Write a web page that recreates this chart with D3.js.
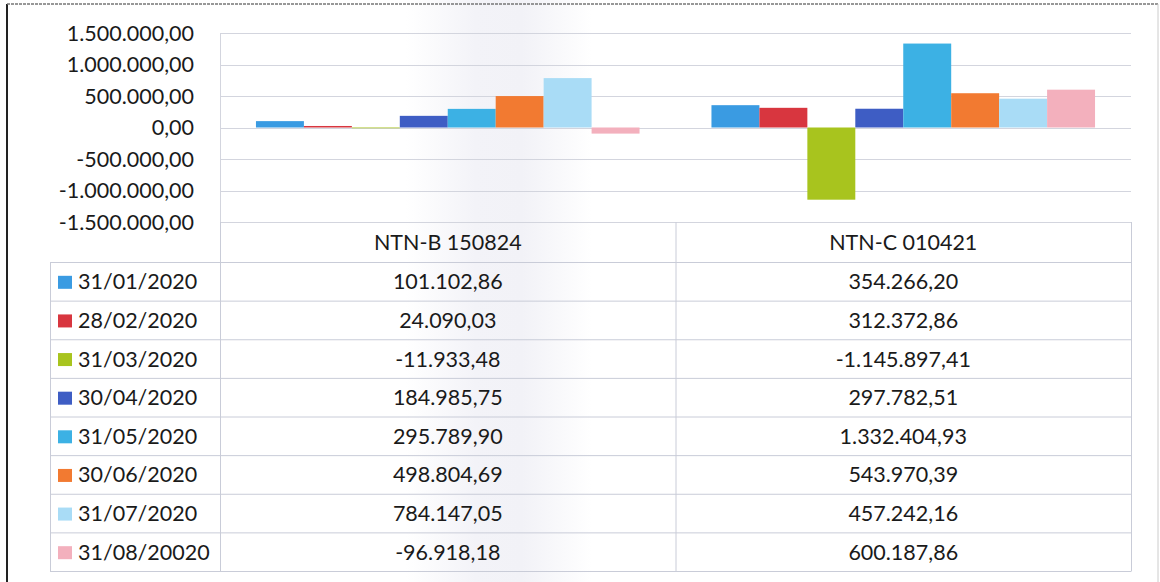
<!DOCTYPE html>
<html>
<head>
<meta charset="utf-8">
<script src="https://cdn.jsdelivr.net/npm/d3@7"></script>
<style>
  body { margin: 0; background: #fff; }
  svg { display: block; font-family: Lato, "Open Sans", sans-serif; }
</style>
</head>
<body>
<div class="chart"></div>
<script>
  // data
  var categories = ['NTN-B 150824', 'NTN-C 010421'];
  var dates = ['31/01/2020', '28/02/2020', '31/03/2020', '30/04/2020',
               '31/05/2020', '30/06/2020', '31/07/2020', '31/08/20020'];
  var ntnB = [101102.86, 24090.03, -11933.48, 184985.75, 295789.90, 498804.69, 784147.05, -96918.18];
  var ntnC = [354266.20, 312372.86, -1145897.41, 297782.51, 1332404.93, 543970.39, 457242.16, 600187.86];
  var yTicks = [1500000, 1000000, 500000, 0, -500000, -1000000, -1500000];

  var colors = ['#3a9be2', '#d8363f', '#a8c41e', '#3e5dc4', '#3cb1e4', '#f27a31', '#a9dcf6', '#f3b0bd'];

  var width = 1160;
  var height = 582;
  var fontSize = 21.5;

  var ptBR = d3.formatLocale({decimal: ',', thousands: '.', grouping: [3], currency: ['R$', ''], minus: '-'});
  var fmt = ptBR.format(',.2f');

  var svg = d3.select('.chart')
    .append('svg')
    .attr('width', width)
    .attr('height', height);

  // faint scanner shading in the middle
  var grad = svg.append('defs').append('linearGradient').attr('id', 'scan');
  grad.append('stop').attr('offset', '0.35').attr('stop-color', '#ffffff');
  grad.append('stop').attr('offset', '0.41').attr('stop-color', '#f3f3f8');
  grad.append('stop').attr('offset', '0.45').attr('stop-color', '#f2f2f7');
  grad.append('stop').attr('offset', '0.51').attr('stop-color', '#ffffff');
  svg.append('rect').attr('width', width).attr('height', height).attr('fill', 'url(#scan)');

  // outer frame
  svg.append('line').attr('x1', 7).attr('x2', 7).attr('y1', 4).attr('y2', height)
    .attr('stroke', '#222').attr('stroke-width', 2);
  svg.append('line').attr('x1', 7).attr('x2', 1158).attr('y1', 4).attr('y2', 4)
    .attr('stroke', '#777').attr('stroke-width', 1.5).attr('stroke-dasharray', '3,1');
  svg.append('line').attr('x1', 1158).attr('x2', 1158).attr('y1', 4).attr('y2', height)
    .attr('stroke', '#ccc');

  var plotLeft = 220, plotRight = 1131;

  var y = d3.scaleLinear().domain([-1500000, 1500000]).range([222, 33]);

  var x0 = d3.scaleBand().domain(categories).range([plotLeft, plotRight]);
  var x1 = d3.scaleBand().domain(dates).range([0, x0.bandwidth()]).paddingOuter(0.75);

  var gridColor = '#d3d5de';

  // gridlines
  svg.append('g').selectAll('line')
    .data(yTicks)
    .enter()
    .append('line')
    .attr('x1', plotLeft)
    .attr('x2', plotRight)
    .attr('y1', function(d) { return Math.round(y(d)) + 0.5; })
    .attr('y2', function(d) { return Math.round(y(d)) + 0.5; })
    .attr('stroke', gridColor);

  svg.append('line').attr('x1', plotLeft + 0.5).attr('x2', plotLeft + 0.5)
    .attr('y1', y(1500000)).attr('y2', y(-1500000)).attr('stroke', gridColor);

  // y axis labels
  svg.append('g').selectAll('text')
    .data(yTicks)
    .enter()
    .append('text')
    .attr('x', 194)
    .attr('y', function(d) { return y(d); })
    .attr('dy', '0.35em')
    .attr('text-anchor', 'end')
    .attr('font-size', fontSize)
    .attr('fill', '#1a1a1a')
    .text(function(d) { return fmt(d); });

  // bars
  var seriesByCat = [ntnB, ntnC];
  var groups = svg.append('g').selectAll('g')
    .data(categories)
    .enter()
    .append('g')
    .attr('transform', function(d) { return 'translate(' + x0(d) + ',0)'; });

  groups.selectAll('rect')
    .data(function(d, i) {
      return dates.map(function(date, j) { return {date: date, value: seriesByCat[i][j], k: j}; });
    })
    .enter()
    .append('rect')
    .attr('x', function(d) { return x1(d.date); })
    .attr('width', x1.bandwidth())
    .attr('y', function(d) { return y(Math.max(0, d.value)); })
    .attr('height', function(d) { return Math.abs(y(d.value) - y(0)); })
    .attr('fill', function(d) { return colors[d.k]; });

  // data table
  var tableTop = y(-1500000);
  var rows = d3.scaleBand().domain(dates).range([262.5, 571.5]);
  var legendLeft = 50;
  var lineColor = '#c9ccd8';
  var table = svg.append('g');

  // header cells
  table.selectAll('.head')
    .data(categories)
    .enter()
    .append('text')
    .attr('class', 'head')
    .attr('x', function(d) { return x0(d) + x0.bandwidth() / 2; })
    .attr('y', (tableTop + rows.range()[0]) / 2)
    .attr('dy', '0.35em')
    .attr('text-anchor', 'middle')
    .attr('font-size', fontSize)
    .attr('fill', '#1a1a1a')
    .text(function(d) { return d; });

  // horizontal row lines
  table.selectAll('.hline')
    .data(dates.concat(['end']))
    .enter()
    .append('line')
    .attr('class', 'hline')
    .attr('x1', legendLeft)
    .attr('x2', plotRight)
    .attr('y1', function(d) { return d === 'end' ? rows.range()[1] : rows(d); })
    .attr('y2', function(d) { return d === 'end' ? rows.range()[1] : rows(d); })
    .attr('stroke', lineColor);

  // vertical lines
  var vlines = [plotLeft, x0(categories[1]), plotRight];
  table.selectAll('.vline')
    .data(vlines)
    .enter()
    .append('line')
    .attr('x1', function(d) { return d + 0.5; })
    .attr('x2', function(d) { return d + 0.5; })
    .attr('y1', tableTop)
    .attr('y2', rows.range()[1])
    .attr('stroke', lineColor);
  table.append('line')
    .attr('x1', legendLeft + 0.5).attr('x2', legendLeft + 0.5)
    .attr('y1', rows.range()[0]).attr('y2', rows.range()[1])
    .attr('stroke', lineColor);

  // legend keys and dates
  var rowG = table.selectAll('.row')
    .data(dates)
    .enter()
    .append('g')
    .attr('transform', function(d) { return 'translate(0,' + (rows(d) + rows.bandwidth() / 2) + ')'; });

  rowG.append('rect')
    .attr('x', 58)
    .attr('y', -6)
    .attr('width', 14)
    .attr('height', 13)
    .attr('fill', function(d, i) { return colors[i]; });

  rowG.append('text')
    .attr('x', 78)
    .attr('dy', '0.35em')
    .attr('font-size', fontSize)
    .attr('fill', '#1a1a1a')
    .text(function(d) { return d; });

  seriesByCat.forEach(function(series, ci) {
    rowG.append('text')
      .attr('x', x0(categories[ci]) + x0.bandwidth() / 2)
      .attr('dy', '0.35em')
      .attr('text-anchor', 'middle')
      .attr('font-size', fontSize)
      .attr('fill', '#1a1a1a')
      .text(function(d, i) { return fmt(series[i]); });
  });
</script>
</body>
</html>
